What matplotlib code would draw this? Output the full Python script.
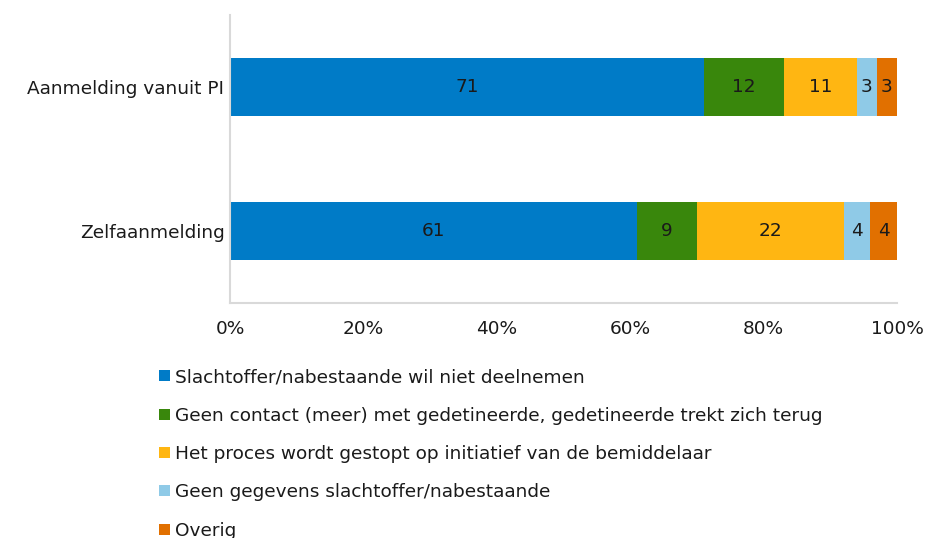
import matplotlib
matplotlib.use("Agg")
import matplotlib.pyplot as plt
import numpy as np

categories = ["Zelfaanmelding", "Aanmelding vanuit PI"]
series_names = [
    "Slachtoffer/nabestaande wil niet deelnemen",
    "Geen contact (meer) met gedetineerde, gedetineerde trekt zich terug",
    "Het proces wordt gestopt op initiatief van de bemiddelaar",
    "Geen gegevens slachtoffer/nabestaande",
    "Overig",
]
values = [
    [61, 71],
    [9, 12],
    [22, 11],
    [4, 3],
    [4, 3],
]
colors = ["#007BC7", "#39870C", "#FFB612", "#8FCAE7", "#E17000"]
xticks = [0, 20, 40, 60, 80, 100]

FS = 13.3
plt.rcParams['font.family'] = ['DejaVu Sans']
fig = plt.figure(figsize=(9.26, 5.38), dpi=100)
ax = fig.add_axes([230/926, 1 - 303/538, (897-230)/926, (303-15)/538])

y = np.arange(len(categories))
left = np.zeros(len(categories))
handles = []
for name, vals, c in zip(series_names, values, colors):
    vals = np.array(vals, dtype=float)
    b = ax.barh(y, vals, left=left, height=0.4, color=c, label=name)
    handles.append(b)
    for yi, (l, v) in enumerate(zip(left, vals)):
        ax.text(l + v / 2, yi, f"{int(v)}", ha="center", va="center",
                fontsize=FS, color="#1a1a1a")
    left += vals

ax.set_xlim(0, 100)
ax.set_ylim(-0.5, 1.5)
ax.set_yticks(y)
ax.set_yticklabels(categories, fontsize=FS, color="#1a1a1a")
ax.set_xticks(xticks)
ax.set_xticklabels([f"{t}%" for t in xticks], fontsize=FS, color="#1a1a1a")
ax.tick_params(length=0)
ax.tick_params(axis="x", pad=12)
ax.tick_params(axis="y", pad=4)
for s in ["top", "right"]:
    ax.spines[s].set_visible(False)
for s in ["left", "bottom"]:
    ax.spines[s].set_color("#d9d9d9")
    ax.spines[s].set_linewidth(1.5)

fig.legend(handles=handles, labels=series_names, loc="upper left",
           bbox_to_anchor=(152/926, 1 - 361/538), frameon=False,
           fontsize=FS, handlelength=0.55, handleheight=0.55,
           handletextpad=0.3, labelspacing=1.1, borderaxespad=0,
           labelcolor="#1a1a1a")

fig.savefig("out.png", dpi=100)
